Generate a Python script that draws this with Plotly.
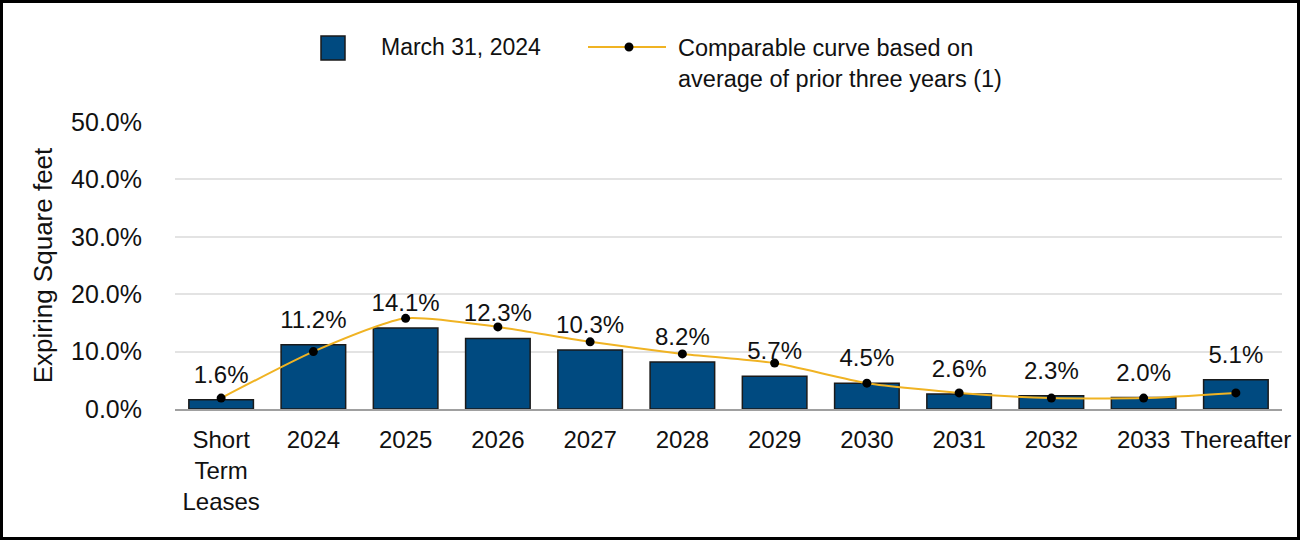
import plotly.graph_objects as go

categories = ["Short<br>Term<br>Leases", "2024", "2025", "2026", "2027", "2028",
              "2029", "2030", "2031", "2032", "2033", "Thereafter"]
march_2024 = [1.6, 11.2, 14.1, 12.3, 10.3, 8.2, 5.7, 4.5, 2.6, 2.3, 2.0, 5.1]
comparable = [1.9, 10.0, 15.8, 14.3, 11.7, 9.6, 8.0, 4.5, 2.8, 1.9, 1.9, 2.8]
y_ticks = [0, 10, 20, 30, 40, 50]
y_tick_labels = ["0.0%", "10.0%", "20.0%", "30.0%", "40.0%", "50.0%"]
bar_name = "March 31, 2024"
curve_name = "Comparable curve based on<br>average of prior three years (1)"

W, H = 1300, 540
ML, MR, MT, MB = 175, 18, 122, 131
PW, PH = W - ML - MR, H - MT - MB

FONT = "Liberation Sans, Arial, sans-serif"
BAR_COLOR = "#004A80"
LINE_COLOR = "#F0B323"


def px_x(px):
    return (px - ML) / PW


def px_y(py):
    return (H - MB - py) / PH


fig = go.Figure()
fig.add_trace(go.Bar(
    x=categories, y=march_2024, name=bar_name, showlegend=False,
    marker=dict(color=BAR_COLOR, line=dict(color="#1a1a1a", width=1.5)),
    width=0.7,
))
fig.add_trace(go.Scatter(
    x=categories, y=march_2024, mode="markers+text", showlegend=False,
    marker=dict(size=16, opacity=0),
    text=[f"{v:.1f}%" for v in march_2024], textposition="top center",
    textfont=dict(size=24, color="#111111", family=FONT),
    cliponaxis=False, hoverinfo="skip",
))
fig.add_trace(go.Scatter(
    x=categories, y=comparable, name=curve_name, showlegend=False,
    mode="lines+markers",
    line=dict(color=LINE_COLOR, width=2, shape="spline", smoothing=0.6),
    marker=dict(color="#000000", size=9),
    cliponaxis=False,
))

# outer frame
fig.add_shape(type="rect", xref="paper", yref="paper",
              x0=px_x(1.5), x1=px_x(W - 1.5), y0=px_y(H - 1.5), y1=px_y(1.5),
              line=dict(color="#000000", width=3), layer="above")

# manual legend
fig.add_shape(type="rect", xref="paper", yref="paper",
              x0=px_x(321), x1=px_x(345), y0=px_y(60), y1=px_y(36),
              fillcolor=BAR_COLOR, line=dict(color="#1a1a1a", width=1.5))
fig.add_annotation(xref="paper", yref="paper", x=px_x(379), y=px_y(47),
                   xanchor="left", yanchor="middle", showarrow=False,
                   text=bar_name, font=dict(size=23, family=FONT, color="#111111"))
fig.add_shape(type="line", xref="paper", yref="paper",
              x0=px_x(588), x1=px_x(666), y0=px_y(47), y1=px_y(47),
              line=dict(color=LINE_COLOR, width=2))
fig.add_shape(type="circle", xref="paper", yref="paper",
              x0=px_x(624.5), x1=px_x(633.5), y0=px_y(51.5), y1=px_y(42.5),
              fillcolor="#000000", line=dict(color="#000000", width=0))
fig.add_annotation(xref="paper", yref="paper", x=px_x(676), y=px_y(33),
                   xanchor="left", yanchor="top", showarrow=False, align="left",
                   text=curve_name, font=dict(size=23.5, family=FONT, color="#111111"))

fig.update_layout(
    width=W, height=H,
    margin=dict(l=ML, r=MR, t=MT, b=MB, autoexpand=False),
    paper_bgcolor="white", plot_bgcolor="white",
    font=dict(family=FONT, size=24, color="#111111"),
    showlegend=False,
    xaxis=dict(range=[-0.5, len(categories) - 0.5],
               showgrid=False, showline=True, linecolor="#A0A0A0", linewidth=2,
               ticks="", tickfont=dict(size=24), ticklabelstandoff=8),
    yaxis=dict(range=[0, 50], tickvals=y_ticks, ticktext=y_tick_labels,
               showgrid=True, gridcolor="#E3E3E3", gridwidth=1.5,
               zeroline=False, tickfont=dict(size=25), ticklabelstandoff=32,
               title=dict(text="Expiring Square feet", font=dict(size=26), standoff=11)),
)

fig.write_html("out.html", config={"displayModeBar": False},
               post_script="document.body.style.margin='0';")
